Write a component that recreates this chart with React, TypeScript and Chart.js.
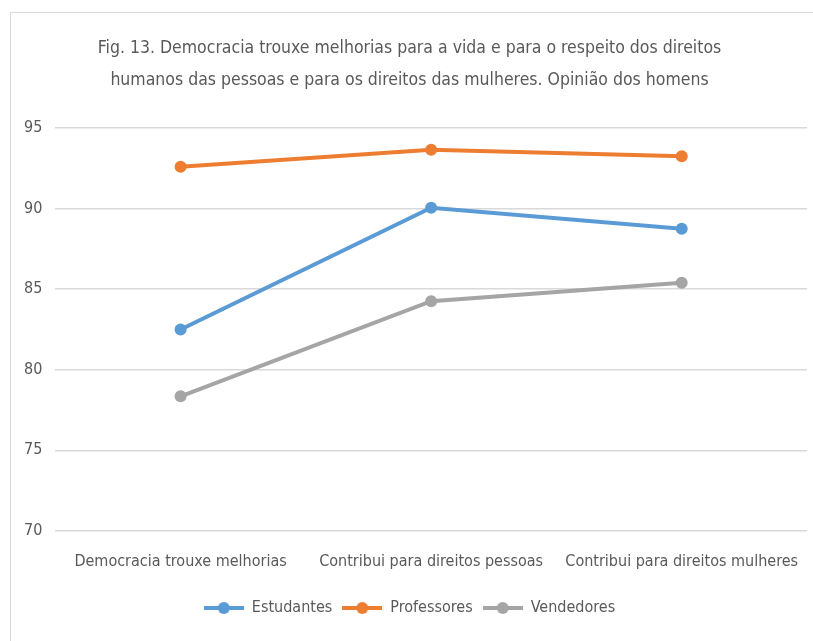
import React, { useEffect, useRef } from "react";
import { Chart, registerables } from "chart.js";

Chart.register(...registerables);

const categories = [
  "Democracia trouxe melhorias",
  "Contribui para direitos pessoas",
  "Contribui para direitos mulheres",
];
const estudantes = [82.5, 90.05, 88.75];
const professores = [92.6, 93.65, 93.25];
const vendedores = [78.35, 84.25, 85.4];
const titleLines = [
  "Fig. 13. Democracia trouxe melhorias para a vida e para o respeito dos direitos",
  "humanos das pessoas e para os direitos das mulheres. Opinião dos homens",
];

const FONT = "'Liberation Sans Narrow', 'DejaVu Sans Condensed', sans-serif";

function legendIcon(color: string): HTMLCanvasElement {
  const c = document.createElement("canvas");
  c.width = 40;
  c.height = 14;
  const ctx = c.getContext("2d")!;
  ctx.strokeStyle = color;
  ctx.lineWidth = 4;
  ctx.beginPath();
  ctx.moveTo(0, 7);
  ctx.lineTo(40, 7);
  ctx.stroke();
  ctx.fillStyle = color;
  ctx.beginPath();
  ctx.arc(20, 7, 6, 0, Math.PI * 2);
  ctx.fill();
  return c;
}

export default function App() {
  const ref = useRef<HTMLCanvasElement>(null);
  useEffect(() => {
    const colors = ["#5B9BD5", "#ED7D31", "#A5A5A5"];
    const names = ["Estudantes", "Professores", "Vendedores"];
    const series = [estudantes, professores, vendedores];
    const chart = new Chart(ref.current!, {
      type: "line",
      data: {
        labels: categories,
        datasets: series.map((d, i) => ({
          label: names[i],
          data: d,
          borderColor: colors[i],
          backgroundColor: colors[i],
          borderWidth: 4,
          pointRadius: 6,
          pointBackgroundColor: colors[i],
          pointBorderWidth: 0,
          pointStyle: "circle",
        })),
      },
      options: {
        animation: false,
        responsive: true,
        maintainAspectRatio: false,
        layout: { padding: { left: 0, right: 5, top: 0, bottom: 15 } },
        plugins: {
          title: {
            display: true,
            text: titleLines,
            color: "#595959",
            font: { family: FONT, size: 17.5, weight: "normal", lineHeight: 1.83 },
            padding: { top: 19, bottom: 32 },
          },
          legend: {
            position: "bottom",
            labels: {
              color: "#595959",
              font: { family: FONT, size: 16 },
              usePointStyle: true,
              pointStyleWidth: 40,
              boxHeight: 14,
              padding: 10,
              generateLabels: () =>
                names.map((n, i) => ({
                  text: n,
                  fontColor: "#595959",
                  pointStyle: legendIcon(colors[i]),
                  fillStyle: colors[i],
                  strokeStyle: colors[i],
                  lineWidth: 0,
                  datasetIndex: i,
                  hidden: false,
                })),
            },
          },
          tooltip: { enabled: false },
        },
        scales: {
          x: {
            offset: true,
            grid: { display: false },
            border: { display: false },
            ticks: { color: "#595959", font: { family: FONT, size: 16 }, padding: 13, maxRotation: 0 },
            afterFit: (s: any) => {
              s.height += 6;
            },
          },
          y: {
            min: 70,
            max: 95,
            ticks: { stepSize: 5, color: "#595959", font: { family: FONT, size: 16 }, padding: 13 },
            grid: { color: "#d9d9d9", lineWidth: 1.5, drawTicks: false },
            border: { display: false },
          },
        },
      },
    });
    return () => chart.destroy();
  }, []);
  return (
    <div style={{ position: "fixed", left: 0, top: 0, width: 813, height: 641, overflow: "hidden", background: "#fff" }}>
      <div
        style={{
          position: "absolute",
          left: 10,
          top: 12,
          width: 803,
          height: 629,
          borderLeft: "1px solid #d9d9d9",
          borderTop: "1px solid #d9d9d9",
          boxSizing: "border-box",
        }}
      >
        <canvas ref={ref} />
      </div>
    </div>
  );
}
